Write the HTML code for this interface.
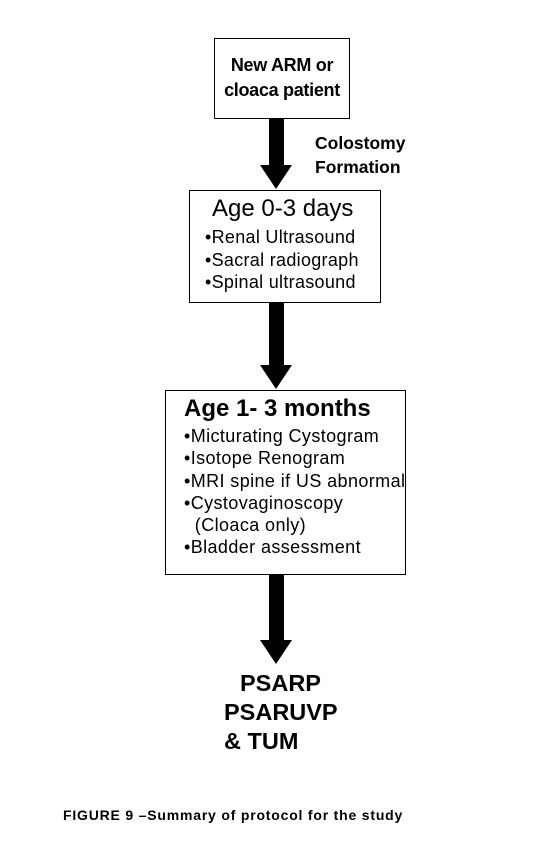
<!DOCTYPE html>
<html><head><style>
body{margin:0;width:547px;height:866px;background:#fff;position:relative;font-family:"Liberation Sans",Arial,sans-serif;color:#000;overflow:hidden}
.b{position:absolute;border:1.5px solid #000;box-sizing:border-box;background:#fff}
.t{position:absolute;white-space:nowrap}
.sh{position:absolute;background:#000}
.hd{position:absolute;width:0;height:0;border-left:16px solid transparent;border-right:16px solid transparent;border-top:24px solid #000}
</style></head><body>
<div class="b" style="left:214px;top:38px;width:136px;height:81px"></div>
<div class="t" style="left:214px;width:136px;top:53px;text-align:center;font-weight:bold;font-size:18px;line-height:25px;letter-spacing:-0.3px">New ARM or<br>cloaca patient</div>
<div class="sh" style="left:269px;top:119px;width:15px;height:48px"></div>
<div class="hd" style="left:260px;top:165px"></div>
<div class="t" style="left:315px;top:131px;font-weight:bold;font-size:17.5px;line-height:24px">Colostomy<br>Formation</div>

<div class="b" style="left:189px;top:190px;width:192px;height:113px"></div>
<div class="t" style="left:212px;top:195px;font-size:24px">Age 0-3 days</div>
<div class="t" style="left:205px;top:226px;font-size:18px;line-height:22.5px;letter-spacing:0.3px">•Renal Ultrasound<br>•Sacral radiograph<br>•Spinal ultrasound</div>
<div class="sh" style="left:269px;top:303px;width:15px;height:63px"></div>
<div class="hd" style="left:260px;top:365px"></div>

<div class="b" style="left:165px;top:390px;width:241px;height:185px"></div>
<div class="t" style="left:184px;top:395px;font-size:24px;font-weight:bold">Age 1- 3 months</div>
<div class="t" style="left:184px;top:425px;font-size:18px;line-height:22.3px;letter-spacing:0.4px">•Micturating Cystogram<br>•Isotope Renogram<br>•MRI spine if US abnormal<br>•Cystovaginoscopy<br>&nbsp;&nbsp;(Cloaca only)<br>•Bladder assessment</div>
<div class="sh" style="left:269px;top:575px;width:15px;height:66px"></div>
<div class="hd" style="left:260px;top:640px"></div>

<div class="t" style="left:240px;top:669px;font-weight:bold;font-size:23.5px;line-height:29px">PSARP</div>
<div class="t" style="left:224px;top:698px;font-weight:bold;font-size:23.5px;line-height:29px">PSARUVP</div>
<div class="t" style="left:224px;top:727px;font-weight:bold;font-size:23.5px;line-height:29px">&amp; TUM</div>

<div class="t" style="left:63px;top:807px;font-size:14px;font-weight:bold;letter-spacing:0.8px">FIGURE 9 –Summary of protocol for the study</div>
</body></html>
